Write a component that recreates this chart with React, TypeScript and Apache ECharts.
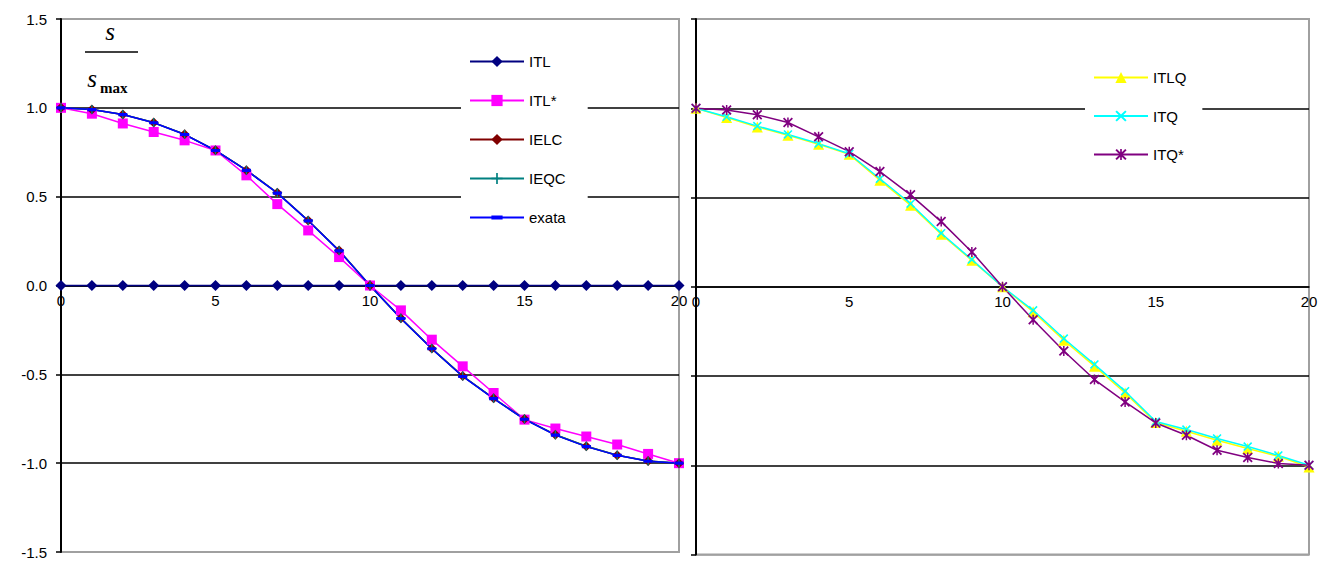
import React, { useEffect, useRef } from 'react';
import * as echarts from 'echarts';

const X = [0, 1, 2, 3, 4, 5, 6, 7, 8, 9, 10, 11, 12, 13, 14, 15, 16, 17, 18, 19, 20];
const Y_TICKS = [-1.5, -1.0, -0.5, 0, 0.5, 1.0, 1.5];
const X_TICKS = [0, 5, 10, 15, 20];

// left panel
const ITL = [0, 0, 0, 0, 0, 0, 0, 0, 0, 0, 0, 0, 0, 0, 0, 0, 0, 0, 0, 0, 0];
const ITL_STAR = [1.0, 0.967, 0.912, 0.864, 0.817, 0.76, 0.62, 0.458, 0.31, 0.16, 0, -0.14, -0.305, -0.455, -0.605, -0.755, -0.805, -0.85, -0.895, -0.948, -1.0];
const IELC = [1.0, 0.99, 0.963, 0.917, 0.851, 0.761, 0.649, 0.522, 0.366, 0.197, 0, -0.185, -0.355, -0.51, -0.635, -0.752, -0.84, -0.905, -0.955, -0.988, -1.0];
const IEQC = [1.0, 0.99, 0.963, 0.917, 0.851, 0.761, 0.649, 0.522, 0.366, 0.197, 0, -0.185, -0.355, -0.51, -0.635, -0.752, -0.84, -0.905, -0.955, -0.988, -1.0];
const EXATA = [1.0, 0.99, 0.962, 0.916, 0.85, 0.76, 0.648, 0.52, 0.364, 0.195, 0, -0.186, -0.356, -0.512, -0.637, -0.753, -0.842, -0.907, -0.956, -0.989, -1.0];

// right panel
const ITLQ = [1.0, 0.948, 0.895, 0.849, 0.798, 0.742, 0.597, 0.457, 0.294, 0.148, 0, -0.14, -0.3, -0.445, -0.595, -0.76, -0.81, -0.86, -0.906, -0.95, -1.01];
const ITQ = [1.0, 0.952, 0.9, 0.853, 0.802, 0.745, 0.605, 0.465, 0.3, 0.152, 0, -0.132, -0.29, -0.435, -0.585, -0.755, -0.8, -0.85, -0.895, -0.945, -1.0];
const ITQ_STAR = [1.0, 0.99, 0.963, 0.92, 0.84, 0.757, 0.645, 0.515, 0.365, 0.195, 0, -0.185, -0.36, -0.52, -0.645, -0.763, -0.832, -0.916, -0.957, -0.99, -1.0];

const FONT = '"Liberation Sans", Arial, sans-serif';
const SERIF = '"Liberation Serif", "Times New Roman", serif';

const PLUS = 'path://M3.4,0H4.6V3.4H8V4.6H4.6V8H3.4V4.6H0V3.4H3.4Z';
const CROSS = 'path://M0,1L1,0L4,3L7,0L8,1L5,4L8,7L7,8L4,5L1,8L0,7L3,4Z';
const STAR = 'path://M0,1L1,0L4,3L7,0L8,1L5,4L8,7L7,8L4,5L1,8L0,7L3,4Z M3.4,0H4.6V8H3.4Z';
// short horizontal dash, with invisible corner specks so the box stays square
const DASH = 'path://M0,2.6H8V5.4H0Z M0,0L0.01,0L0,0.01Z M8,8L7.99,8L8,7.99Z';

const GRIDS = [
  { left: 61, top: 19, width: 618, height: 533 },
  { left: 696, top: 19, width: 613, height: 535.5 },
];

const pairs = (ys: number[]) => X.map((x, i) => [x, ys[i]]);

function yAxis(gridIndex: number, showLabels: boolean) {
  return {
    type: 'value',
    gridIndex,
    min: Y_TICKS[0],
    max: Y_TICKS[Y_TICKS.length - 1],
    interval: 0.5,
    axisLine: { show: true, onZero: false, lineStyle: { color: '#000', width: 2 } },
    axisTick: { show: true, inside: false, length: 5, lineStyle: { color: '#000', width: 1.5 } },
    axisLabel: {
      show: showLabels,
      margin: 14,
      fontSize: 15,
      fontFamily: FONT,
      color: '#000',
      formatter: (v: number) => v.toFixed(1),
    },
    splitLine: {
      show: true,
      lineStyle: { color: ['#a0a0a0', '#000', '#000', '#000', '#000', '#000', '#a0a0a0'], width: 1.5 },
    },
  };
}

function xAxis(gridIndex: number) {
  // y range is symmetric, so zero sits at the vertical middle of the grid
  const zeroOffset = -GRIDS[gridIndex].height * (0 - Y_TICKS[0]) / (Y_TICKS[Y_TICKS.length - 1] - Y_TICKS[0]);
  return {
    type: 'value',
    gridIndex,
    position: 'bottom',
    offset: zeroOffset,
    min: X_TICKS[0],
    max: X_TICKS[X_TICKS.length - 1],
    interval: 5,
    axisLine: { show: true, onZero: false, lineStyle: { color: '#000', width: 1.5 } },
    axisTick: { show: false },
    axisLabel: { margin: 7, fontSize: 15, fontFamily: FONT, color: '#000' },
    splitLine: { show: false },
  };
}

function line(name: string, ys: number[], color: string, symbol: string, size: any, idx: number) {
  return {
    name,
    type: 'line',
    xAxisIndex: idx,
    yAxisIndex: idx,
    data: pairs(ys),
    symbol,
    symbolSize: size,
    symbolKeepAspect: true,
    showSymbol: true,
    lineStyle: { color, width: 1.5 },
    itemStyle: { color, opacity: 1 },
    emphasis: { disabled: true },
  };
}

export default function App() {
  const ref = useRef<HTMLDivElement>(null);
  useEffect(() => {
    document.body.style.margin = '0';
    const chart = echarts.init(ref.current!, null, { renderer: 'svg' });
    chart.setOption({
      animation: false,
      backgroundColor: '#fff',
      grid: GRIDS.map((g) => ({ ...g, show: true, borderColor: '#a0a0a0', borderWidth: 2, backgroundColor: 'transparent' })),
      xAxis: [xAxis(0), xAxis(1)],
      yAxis: [yAxis(0, true), yAxis(1, false)],
      legend: [
        {
          orient: 'vertical',
          left: 461,
          top: 40,
          padding: [14, 22, 12, 8],
          backgroundColor: '#fff',
          itemWidth: 54,
          itemHeight: 14,
          itemGap: 24,
          textStyle: { fontSize: 15, fontFamily: FONT, color: '#000' },
          data: ['ITL', 'ITL*', 'IELC', 'IEQC', 'exata'],
        },
        {
          orient: 'vertical',
          left: 1085,
          top: 56,
          padding: [14, 16, 12, 8],
          backgroundColor: '#fff',
          itemWidth: 54,
          itemHeight: 14,
          itemGap: 23.5,
          textStyle: { fontSize: 15, fontFamily: FONT, color: '#000' },
          data: ['ITLQ', 'ITQ', 'ITQ*'],
        },
      ],
      series: [
        line('ITL', ITL, '#000080', 'diamond', 11, 0),
        line('ITL*', ITL_STAR, '#FF00FF', 'rect', 10, 0),
        line('IELC', IELC, '#800000', 'diamond', 10, 0),
        line('IEQC', IEQC, '#008080', PLUS, 9, 0),
        line('exata', EXATA, '#0000FF', DASH, 9, 0),
        line('ITLQ', ITLQ, '#FFFF00', 'triangle', 11, 1),
        line('ITQ', ITQ, '#00FFFF', CROSS, 9, 1),
        line('ITQ*', ITQ_STAR, '#800080', STAR, 10, 1),
      ],
      graphic: [
        { type: 'text', x: 110, y: 31, style: { text: 's', font: `italic normal 25px ${SERIF}`, fill: '#000', align: 'center', verticalAlign: 'middle' } },
        { type: 'line', shape: { x1: 85, y1: 52, x2: 138, y2: 52 }, style: { stroke: '#000', lineWidth: 1.5 } },
        { type: 'text', x: 92, y: 78, style: { text: 's', font: `italic normal 25px ${SERIF}`, fill: '#000', align: 'center', verticalAlign: 'middle' } },
        { type: 'text', x: 100, y: 88, style: { text: 'max', font: `normal bold 15px ${SERIF}`, fill: '#000', align: 'left', verticalAlign: 'middle' } },
      ],
    });
    return () => chart.dispose();
  }, []);
  return <div ref={ref} style={{ width: 1332, height: 562 }} />;
}
